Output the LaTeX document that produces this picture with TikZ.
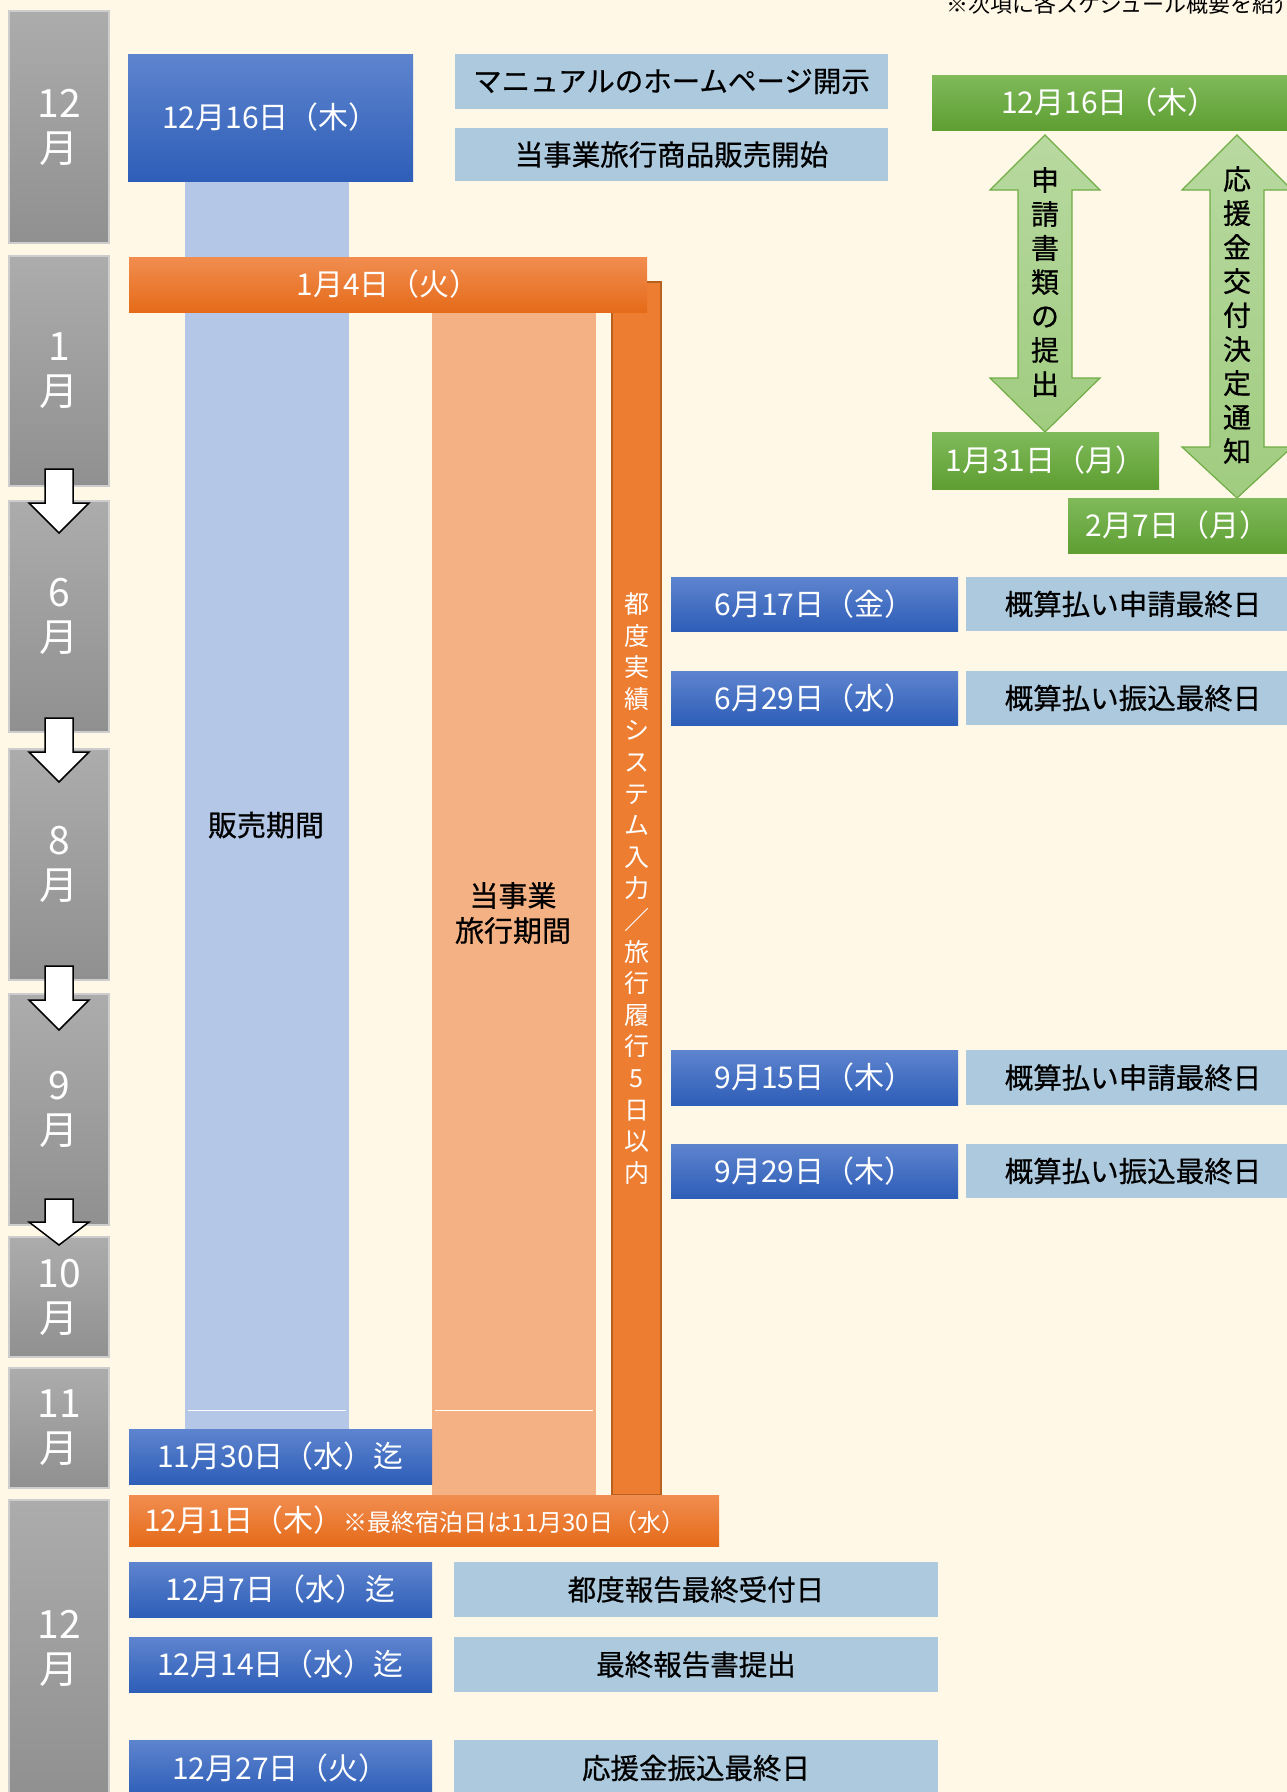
\documentclass[tikz,border=0pt]{standalone}
\usepackage{fontspec}
\setmainfont{Noto Sans CJK JP}
\newfontfamily\jpdark{Noto Sans CJK JP}[FakeBold=0.6]
\definecolor{bgc}{RGB}{255,248,230}
\definecolor{monthtop}{RGB}{172,172,172}
\definecolor{monthbot}{RGB}{144,144,144}
\definecolor{monthborder}{RGB}{205,205,205}
\definecolor{bluetop}{RGB}{94,132,206}
\definecolor{bluebot}{RGB}{46,94,184}
\definecolor{lboxc}{RGB}{173,201,222}
\definecolor{orangetop}{RGB}{241,141,80}
\definecolor{orangebot}{RGB}{229,107,25}
\definecolor{orangeflat}{RGB}{237,125,49}
\definecolor{orangeedge}{RGB}{184,96,30}
\definecolor{colblue}{RGB}{180,199,231}
\definecolor{colorange}{RGB}{244,177,131}
\definecolor{greentop}{RGB}{128,186,90}
\definecolor{greenbot}{RGB}{94,158,50}
\definecolor{garrowtop}{RGB}{184,217,160}
\definecolor{garrowbot}{RGB}{160,204,128}
\definecolor{garrowedge}{RGB}{112,173,71}
\begin{document}
\begin{tikzpicture}[x=1pt,y=-1pt,
  every node/.style={inner sep=0pt, outer sep=0pt},
  monthbox/.style={draw=monthborder, line width=1.2pt, top color=monthtop, bottom color=monthbot, text=white, align=center, font=\fontsize{39}{45}\selectfont, minimum width=100},
  bluebox/.style={top color=bluetop, bottom color=bluebot, text=white, font=\fontsize{30}{34}\selectfont},
  lbox/.style={fill=lboxc, text=black, font=\jpdark\fontsize{28.5}{34}\selectfont},
  orangebar/.style={top color=orangetop, bottom color=orangebot, text=white, font=\fontsize{30}{34}\selectfont},
  greenbox/.style={top color=greentop, bottom color=greenbot, text=white, font=\fontsize{30}{34}\selectfont},
  dnarrow/.style={fill=white, draw=black, line width=1.5pt, line join=miter},
  garrow/.style={top color=garrowtop, bottom color=garrowbot, draw=garrowedge, line width=1.2pt, line join=miter},
  vtext/.style={align=center, font=\jpdark\fontsize{28}{34}\selectfont, text=black},
  coltext/.style={align=center, font=\jpdark\fontsize{29}{35}\selectfont, text=black}
]
\useasboundingbox (0,0) rectangle (1287,1792);
\fill[bgc] (0,0) rectangle (1287,1792);

% top note
\node[anchor=base west, font=\fontsize{22}{26}\selectfont, text=black] (note) at (946,12) {※次項に各スケジュール概要を紹介};

% month boxes
\node[monthbox, minimum height=232] (m1) at (59,127) {12\\月};
\node[monthbox, minimum height=230] (m2) at (59,371) {1\\月};
\node[monthbox, minimum height=231] (m3) at (59,616.5) {6\\月};
\node[monthbox, minimum height=231] (m4) at (59,864.5) {8\\月};
\node[monthbox, minimum height=231] (m5) at (59,1109.5) {9\\月};
\node[monthbox, minimum height=120] (m6) at (59,1297) {10\\月};
\node[monthbox, minimum height=120] (m7) at (59,1428) {11\\月};
\node[monthbox, minimum height=296] (m8) at (59,1648) {12\\月};

% down arrows
\draw[dnarrow] (45,469) -- (73,469) -- (73,503) -- (89,503) -- (59,533) -- (29,503) -- (45,503) -- cycle;
\draw[dnarrow] (45,718) -- (73,718) -- (73,752) -- (89,752) -- (59,782) -- (29,752) -- (45,752) -- cycle;
\draw[dnarrow] (45,966) -- (73,966) -- (73,1000) -- (89,1000) -- (59,1030) -- (29,1000) -- (45,1000) -- cycle;
\draw[dnarrow] (45,1199) -- (73,1199) -- (73,1222) -- (89,1222) -- (59,1245) -- (29,1222) -- (45,1222) -- cycle;

% columns
\node[fill=colblue, minimum width=164, minimum height=1248] (colsale) at (267,805) {};
\node[fill=colorange, minimum width=164, minimum height=1183] (coltravel) at (514,903.5) {};
\draw[white, line width=1pt] (188,1410) -- (346,1410);
\draw[white, line width=1pt] (435,1410) -- (593,1410);
\node[coltext] (tsale) at (266,825) {販売期間};
\node[coltext] (ttravel) at (513,913) {当事業\\旅行期間};

% tall orange bar
\node[fill=orangeflat, draw=orangeedge, line width=2pt, minimum width=49, minimum height=1213, text=white, align=center, font=\fontsize{25}{31.6}\selectfont] (tallbar) at (636.5,888.5)
 {都\\度\\実\\績\\シ\\ス\\テ\\ム\\入\\力\\／\\旅\\行\\履\\行\\5\\日\\以\\内};

% top blue and light boxes
\node[bluebox, minimum width=285, minimum height=127] (b0) at (270.5,117.5) {12月16日（木）};
\node[lbox, minimum width=433, minimum height=55] (l1) at (671.5,81.5) {マニュアルのホームページ開示};
\node[lbox, minimum width=433, minimum height=53] (l2) at (671.5,154.5) {当事業旅行商品販売開始};

% 1月4日 bar
\node[orangebar, minimum width=518, minimum height=55] (o1) at (388,284.5) {1月4日（火）};

% green section
\node[greenbox, minimum width=355, minimum height=55] (g0) at (1109.5,102.5) {12月16日（木）};
\draw[garrow] (1045,135) -- (1100,190) -- (1072,190) -- (1072,378) -- (1100,378) -- (1045,432) -- (990,378) -- (1018,378) -- (1018,190) -- (990,190) -- cycle;
\draw[garrow] (1237,135) -- (1292,190) -- (1264,190) -- (1264,447) -- (1292,447) -- (1237,498) -- (1182,447) -- (1210,447) -- (1210,190) -- (1182,190) -- cycle;
\node[vtext] (ga1) at (1045,282) {申\\請\\書\\類\\の\\提\\出};
\node[vtext] (ga2) at (1237,315) {応\\援\\金\\交\\付\\決\\定\\通\\知};
\node[greenbox, minimum width=227, minimum height=57] (g1) at (1045.5,460.5) {1月31日（月）};
\node[greenbox, minimum width=219, minimum height=55] (g2) at (1177.5,525.5) {2月7日（月）};

% June / September
\node[bluebox, minimum width=287, minimum height=54] (b5) at (814.5,604) {6月17日（金）};
\node[lbox, minimum width=334, minimum height=54] (l3) at (1133,604) {概算払い申請最終日};
\node[bluebox, minimum width=287, minimum height=54] (b6) at (814.5,698) {6月29日（水）};
\node[lbox, minimum width=334, minimum height=54] (l4) at (1133,698) {概算払い振込最終日};
\node[bluebox, minimum width=287, minimum height=55] (b7) at (814.5,1077.5) {9月15日（木）};
\node[lbox, minimum width=334, minimum height=55] (l5) at (1133,1077.5) {概算払い申請最終日};
\node[bluebox, minimum width=287, minimum height=54] (b8) at (814.5,1171) {9月29日（木）};
\node[lbox, minimum width=334, minimum height=54] (l6) at (1133,1171) {概算払い振込最終日};

% end of period
\node[bluebox, minimum width=303, minimum height=55] (b1) at (280.5,1456.5) {11月30日（水）迄};
\node[orangebar, anchor=west, minimum height=51, text width=560, inner xsep=15pt, align=left] (o2) at (129,1520.5)
 {12月1日（木）{\fontsize{24}{28}\selectfont ※最終宿泊日は11月30日（水）}};

% December
\node[bluebox, minimum width=303, minimum height=55] (b2) at (280.5,1589.5) {12月7日（水）迄};
\node[lbox, minimum width=484, minimum height=55] (l7) at (696,1589.5) {都度報告最終受付日};
\node[bluebox, minimum width=303, minimum height=55] (b3) at (280.5,1664.5) {12月14日（水）迄};
\node[lbox, minimum width=484, minimum height=55] (l8) at (696,1664.5) {最終報告書提出};
\node[bluebox, minimum width=303, minimum height=56] (b4) at (280.5,1768) {12月27日（火）};
\node[lbox, minimum width=484, minimum height=56] (l9) at (696,1768) {応援金振込最終日};
\end{tikzpicture}
\end{document}
